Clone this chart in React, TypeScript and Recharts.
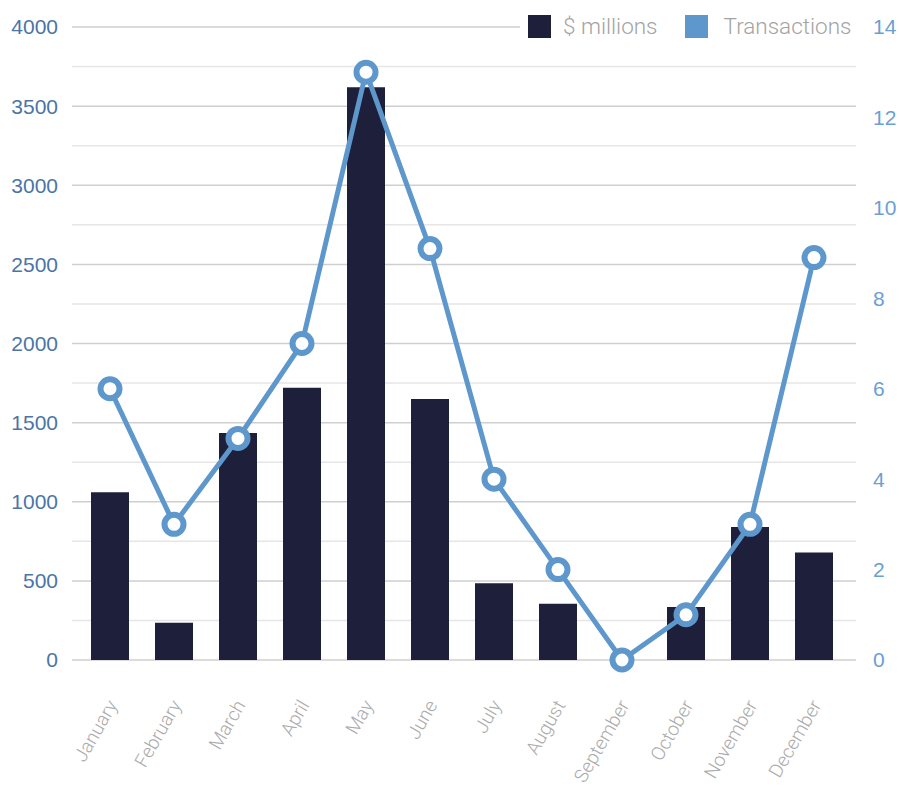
import React from "react";
import {
  ComposedChart,
  Bar,
  Line,
  XAxis,
  YAxis,
  CartesianGrid,
  Legend,
} from "recharts";

const months = [
  "January",
  "February",
  "March",
  "April",
  "May",
  "June",
  "July",
  "August",
  "September",
  "October",
  "November",
  "December",
];
const dollarsMillions = [1060, 235, 1435, 1720, 3620, 1650, 485, 355, 0, 335, 840, 680];
const transactions = [6, 3, 4.9, 7, 13, 9.1, 4, 2, 0, 1, 3, 8.9];

const leftTicks = [0, 500, 1000, 1500, 2000, 2500, 3000, 3500, 4000];
const rightTicks = [0, 2, 4, 6, 8, 10, 12, 14];
// lighter half-step lines between the labelled ones
const minorLines = [250, 750, 1250, 1750, 2250, 2750, 3250, 3750];

const data = months.map((month, i) => ({
  month,
  millions: dollarsMillions[i],
  transactions: transactions[i],
}));

const BAR = "#1e1f3a";
const LINE = "#5e97cc";
const NUM_FONT = "'Liberation Sans', Arial, sans-serif";
const LIGHT_FONT = "Roboto, 'Open Sans', sans-serif";

const MonthTick = (props: any) => {
  const { x, y, payload } = props;
  const ax = x + 8;
  const ay = y + 45;
  return (
    <text
      x={ax}
      y={ay}
      transform={`rotate(-60 ${ax} ${ay})`}
      textAnchor="end"
      fill="#ababab"
      fontSize={19}
      fontWeight={300}
      fontFamily={LIGHT_FONT}
    >
      {payload.value}
    </text>
  );
};

const LegendContent = (props: any) => {
  const { payload } = props;
  return (
    <div
      style={{
        display: "flex",
        alignItems: "center",
        height: "100%",
        paddingLeft: 8,
        background: "#fff",
        fontFamily: LIGHT_FONT,
        fontWeight: 300,
        fontSize: 22.5,
        color: "#a3a3a3",
        whiteSpace: "nowrap",
      }}
    >
      {(payload || []).map((entry: any, i: number) => (
        <div
          key={entry.value}
          style={{ display: "flex", alignItems: "center", marginLeft: i === 0 ? 0 : 27 }}
        >
          <span
            style={{
              width: 23,
              height: 23,
              background: entry.color,
              display: "inline-block",
              marginRight: i === 0 ? 12 : 16,
            }}
          />
          <span>{entry.value}</span>
        </div>
      ))}
    </div>
  );
};

export default function App() {
  return (
    <div style={{ position: "absolute", left: 0, top: 0, background: "#fff" }}>
      <ComposedChart
        width={899}
        height={789}
        data={data}
        margin={{ top: 27, right: 0, bottom: 0, left: 0 }}
      >
        <CartesianGrid
          yAxisId="left"
          vertical={false}
          horizontalValues={minorLines}
          stroke="#e6e6e6"
          strokeWidth={1.5}
        />
        <CartesianGrid
          yAxisId="left"
          vertical={false}
          horizontalValues={leftTicks}
          stroke="#cfcfcf"
          strokeWidth={1.5}
        />
        <XAxis
          dataKey="month"
          axisLine={false}
          tickLine={false}
          tickSize={0}
          tickMargin={0}
          interval={0}
          height={129}
          padding={{ left: 6, right: 10 }}
          tick={<MonthTick />}
        />
        <YAxis
          yAxisId="left"
          domain={[0, 4000]}
          ticks={leftTicks}
          axisLine={false}
          tickLine={false}
          tickSize={0}
          tickMargin={14}
          width={72}
          tick={{ fill: "#4a75a6", fontSize: 21, fontFamily: NUM_FONT }}
        />
        <YAxis
          yAxisId="right"
          orientation="right"
          domain={[0, 14]}
          ticks={rightTicks}
          axisLine={false}
          tickLine={false}
          tickSize={0}
          tickMargin={17}
          width={43}
          tick={{ fill: "#6b9fd4", fontSize: 21, fontFamily: NUM_FONT, textAnchor: "start" }}
        />
        <Legend
          layout="vertical"
          align="center"
          verticalAlign="middle"
          content={<LegendContent />}
          wrapperStyle={{ left: 520, top: 12, width: 345, height: 28 }}
        />
        <Bar
          yAxisId="left"
          dataKey="millions"
          name="$ millions"
          fill={BAR}
          barSize={38}
          isAnimationActive={false}
        />
        <Line
          yAxisId="right"
          dataKey="transactions"
          name="Transactions"
          type="linear"
          stroke={LINE}
          strokeWidth={5}
          dot={{ r: 9.5, fill: "#fff", stroke: LINE, strokeWidth: 6 }}
          activeDot={false}
          isAnimationActive={false}
        />
      </ComposedChart>
    </div>
  );
}
